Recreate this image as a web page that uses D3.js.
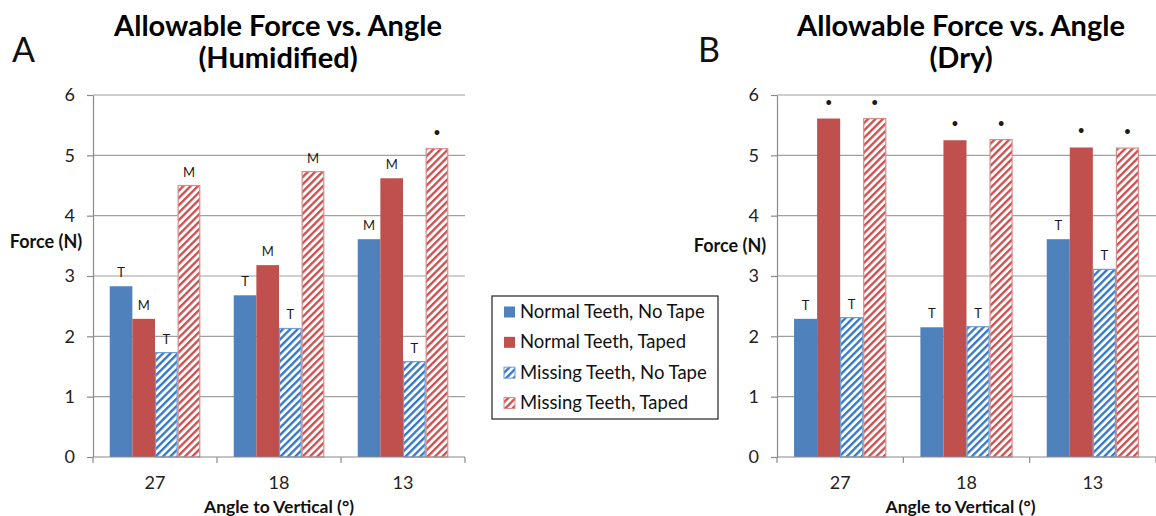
<!DOCTYPE html>
<html>
<head>
<meta charset="utf-8">
<script src="https://cdn.jsdelivr.net/npm/d3@7"></script>
<style>
  html, body { margin: 0; padding: 0; background: #fff; }
  svg { display: block; font-family: Lato, "Open Sans", sans-serif; }
</style>
</head>
<body>
<svg id="chart" width="1156" height="516"></svg>
<script>
// ---- data ----
const categories = ["27", "18", "13"];
const seriesNames = ["Normal Teeth, No Tape", "Normal Teeth, Taped", "Missing Teeth, No Tape", "Missing Teeth, Taped"];
const yTicks = [0, 1, 2, 3, 4, 5, 6];

const humidNormalNoTape  = [2.83, 2.68, 3.61];
const humidNormalTaped   = [2.29, 3.18, 4.62];
const humidMissingNoTape = [1.73, 2.13, 1.58];
const humidMissingTaped  = [4.50, 4.73, 5.11];
const humidLabelsNormalNoTape  = ["T", "T", "M"];
const humidLabelsNormalTaped   = ["M", "M", "M"];
const humidLabelsMissingNoTape = ["T", "T", "T"];
const humidLabelsMissingTaped  = ["M", "M", "•"];

const dryNormalNoTape  = [2.29, 2.15, 3.61];
const dryNormalTaped   = [5.61, 5.25, 5.13];
const dryMissingNoTape = [2.31, 2.16, 3.11];
const dryMissingTaped  = [5.61, 5.26, 5.12];
const dryLabelsNormalNoTape  = ["T", "T", "T"];
const dryLabelsNormalTaped   = ["•", "•", "•"];
const dryLabelsMissingNoTape = ["T", "T", "T"];
const dryLabelsMissingTaped  = ["•", "•", "•"];

// ---- styles ----
const BLUE = "#4F81BD", RED = "#C0504D";
const HATCH_BLUE = "#2F75C6", HATCH_RED = "#CC4B4B";
const fills = [BLUE, RED, "url(#hatchBlue)", "url(#hatchRed)"];
const strokes = ["none", "none", "#6E9CD3", "#D98C8A"];

const svg = d3.select("#chart");
const defs = svg.append("defs");
function hatch(id, color) {
  const p = defs.append("pattern").attr("id", id)
    .attr("patternUnits", "userSpaceOnUse")
    .attr("width", 5.2).attr("height", 5.2)
    .attr("patternTransform", "rotate(45)");
  p.append("rect").attr("width", 5.2).attr("height", 5.2).attr("fill", "#fff");
  p.append("line").attr("x1", 1.2).attr("x2", 1.2).attr("y1", 0).attr("y2", 5.2)
    .attr("stroke", color).attr("stroke-width", 2.3);
}
hatch("hatchBlue", HATCH_BLUE);
hatch("hatchRed", HATCH_RED);

const panels = [
  {
    letter: "A", letterX: 12, title: ["Allowable Force vs. Angle", "(Humidified)"], titleX: 278,
    x0: 93, x1: 465, yLabelX: 46, yLabelY: 242,
    values: [humidNormalNoTape, humidNormalTaped, humidMissingNoTape, humidMissingTaped],
    labels: [humidLabelsNormalNoTape, humidLabelsNormalTaped, humidLabelsMissingNoTape, humidLabelsMissingTaped]
  },
  {
    letter: "B", letterX: 698, title: ["Allowable Force vs. Angle", "(Dry)"], titleX: 961,
    x0: 777, x1: 1156, yLabelX: 730, yLabelY: 246,
    values: [dryNormalNoTape, dryNormalTaped, dryMissingNoTape, dryMissingTaped],
    labels: [dryLabelsNormalNoTape, dryLabelsNormalTaped, dryLabelsMissingNoTape, dryLabelsMissingTaped]
  }
];

const yTop = 95, yBot = 457;
const y = d3.scaleLinear().domain([0, 6]).range([yBot, yTop]);

panels.forEach(p => {
  const g = svg.append("g");
  // panel letter
  g.append("text").attr("x", p.letterX).attr("y", 62).attr("font-size", 34)
    .attr("fill", "#111").text(p.letter);
  // title
  p.title.forEach((t, i) => {
    g.append("text").attr("x", p.titleX).attr("y", 36 + i * 32)
      .attr("text-anchor", "middle").attr("font-size", 29).attr("font-weight", "bold")
      .attr("fill", "#000").text(t);
  });

  const x = d3.scaleBand().domain(categories).range([p.x0, p.x1]).padding(0);
  const bw = x.bandwidth();
  const xs = d3.scaleBand().domain(seriesNames).range([bw * 0.135, bw * 0.865]).padding(0);

  // gridlines
  g.append("g").selectAll("line").data(yTicks.filter(d => d > 0)).join("line")
    .attr("x1", p.x0).attr("x2", p.x1).attr("y1", d => y(d)).attr("y2", d => y(d))
    .attr("stroke", "#A0A0A0").attr("stroke-width", 1.2);

  // y axis
  const ya = g.append("g").attr("transform", `translate(${p.x0},0)`)
    .call(d3.axisLeft(y).tickValues(yTicks).tickFormat(d3.format("d"))
      .tickSize(6).tickSizeOuter(0).tickPadding(12));
  ya.select(".domain").attr("stroke", "#8A8A8A").attr("stroke-width", 1.2);
  ya.selectAll(".tick line").attr("stroke", "#8A8A8A").attr("stroke-width", 1.2);
  ya.selectAll(".tick text").attr("font-size", 18).attr("fill", "#222")
    .attr("font-family", "Lato, sans-serif");

  // bars
  seriesNames.forEach((s, si) => {
    const vals = p.values[si];
    g.append("g").selectAll("rect").data(categories).join("rect")
      .attr("x", (c) => x(c) + xs(s) + (si >= 2 ? 0.5 : 0))
      .attr("y", (c, i) => y(vals[i]))
      .attr("width", xs.bandwidth() - (si >= 2 ? 1 : 0))
      .attr("height", (c, i) => yBot - y(vals[i]))
      .attr("fill", fills[si])
      .attr("stroke", strokes[si]).attr("stroke-width", 1.2);
    // data labels
    g.append("g").selectAll("text").data(categories).join("text")
      .attr("x", c => x(c) + xs(s) + xs.bandwidth() / 2)
      .attr("y", (c, i) => y(vals[i]) - (p.labels[si][i] === "•" ? 13 : 9))
      .attr("text-anchor", "middle")
      .attr("font-size", (c, i) => p.labels[si][i] === "•" ? 11 : 13)
      .attr("font-weight", (c, i) => p.labels[si][i] === "•" ? "bold" : "normal")
      .attr("fill", "#1a1a1a")
      .text((c, i) => p.labels[si][i]);
  });

  // x axis line and boundary ticks
  g.append("line").attr("x1", p.x0).attr("x2", p.x1).attr("y1", yBot).attr("y2", yBot)
    .attr("stroke", "#8A8A8A").attr("stroke-width", 1.2);
  const bounds = categories.map(c => x(c)).concat([x.range()[1]]);
  g.append("g").selectAll("line").data(bounds).join("line")
    .attr("x1", d => d).attr("x2", d => d).attr("y1", yBot).attr("y2", yBot + 6)
    .attr("stroke", "#8A8A8A").attr("stroke-width", 1.2);
  const xa = g.append("g").attr("transform", `translate(0,${yBot})`)
    .call(d3.axisBottom(x).tickSize(0).tickPadding(19));
  xa.select(".domain").remove();
  xa.selectAll(".tick text").attr("font-size", 18).attr("fill", "#222")
    .attr("font-family", "Lato, sans-serif");

  // axis titles
  g.append("text").attr("x", (p.x0 + p.x1) / 2 + (p.letter === "B" ? -6 : 0)).attr("y", 513)
    .attr("text-anchor", "middle").attr("font-size", 17.5).attr("font-weight", "bold")
    .attr("fill", "#111").text("Angle to Vertical (°)");
  g.append("text").attr("x", p.yLabelX).attr("y", p.yLabelY + 6)
    .attr("text-anchor", "middle").attr("font-size", 18).attr("font-weight", "bold")
    .attr("fill", "#111").text("Force (N)");
});

// legend
const lg = svg.append("g");
lg.append("rect").attr("x", 492).attr("y", 296).attr("width", 226).attr("height", 123)
  .attr("fill", "#fff").attr("stroke", "#222").attr("stroke-width", 1.2);
const ly = d3.scalePoint().domain(seriesNames).range([312, 403]);
seriesNames.forEach((s, si) => {
  lg.append("rect").attr("x", 504).attr("y", ly(s) - 5.5).attr("width", 11).attr("height", 11)
    .attr("fill", fills[si]).attr("stroke", strokes[si]).attr("stroke-width", 1);
  lg.append("text").attr("x", 520).attr("y", ly(s) + 6).attr("font-size", 18.5)
    .attr("fill", "#111").text(s);
});
</script>
</body>
</html>
